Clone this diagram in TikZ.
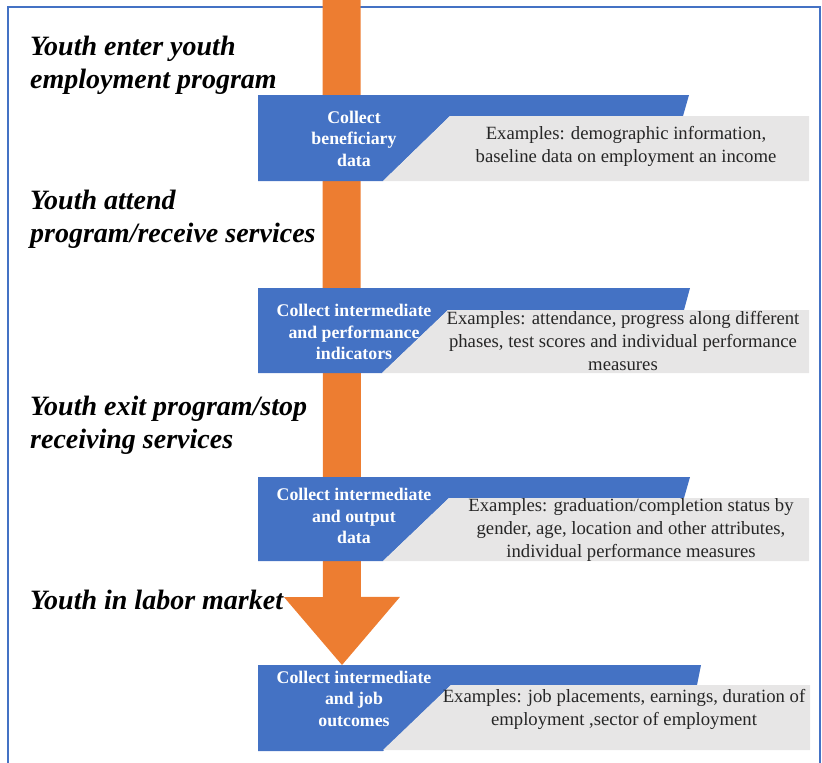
\documentclass[tikz,border=0pt]{standalone}
\usepackage{fontspec}
\setmainfont{Liberation Serif}
\usetikzlibrary{arrows.meta}
\definecolor{flowblue}{HTML}{4472C4}
\definecolor{floworange}{HTML}{ED7D31}
\definecolor{panelgray}{HTML}{E7E6E6}
\definecolor{textgray}{HTML}{262626}

\begin{document}
\begin{tikzpicture}[x=1pt,y=-1pt,
  stage/.style={anchor=west, align=left, inner sep=0pt, font=\fontsize{28}{33}\selectfont\bfseries\itshape},
  collect/.style={align=center, inner sep=0pt, text=white, font=\fontsize{17.8}{21.5}\selectfont\bfseries},
  examples/.style={align=center, inner sep=0pt, text=textgray, font=\fontsize{18.7}{23}\selectfont},
  tab/.style={fill=flowblue},
  panel/.style={fill=panelgray},
  flow/.style={draw=floworange, line width=38pt, -{Triangle[width=116pt, length=68pt, line width=0pt]}}]
\useasboundingbox (0,0) rectangle (822,763);
\draw[flowblue, line width=1.5pt] (8,763) -- (8,7) -- (820,7) -- (820,763);

% the orange flow arrow
\coordinate (flowtop) at (341.5,0);
\coordinate (flowtip) at (342,665);
\draw[flow] (flowtop) -- (flowtip);

% banners
\fill[tab] (258,95) -- (689,95) -- (683,116) -- (450,116) -- (383,181) -- (258,181) -- cycle;
\fill[panel] (450,116) -- (809,116) -- (809,181) -- (383,181) -- cycle;
\node[collect] (collect1) at (354,138.5) {Collect\\beneficiary\\data};
\node[examples] (examples1) at (626,146) {Examples: demographic information,\\baseline data on employment an income};

\fill[tab] (258,288) -- (690,288) -- (684,310) -- (448,310) -- (382,373) -- (258,373) -- cycle;
\fill[panel] (448,310) -- (809,310) -- (809,373) -- (382,373) -- cycle;
\node[collect] (collect2) at (354,332) {Collect intermediate\\and performance\\indicators};
\node[examples] (examples2) at (623,341) {Examples: attendance, progress along different\\phases, test scores and individual performance\\measures};

\fill[tab] (258,477) -- (690,477) -- (684,498) -- (449,498) -- (383,561) -- (258,561) -- cycle;
\fill[panel] (449,498) -- (809,498) -- (809,561) -- (383,561) -- cycle;
\node[collect] (collect3) at (354,516) {Collect intermediate\\and output\\data};
\node[examples] (examples3) at (631,530) {Examples: graduation/completion status by\\gender, age, location and other attributes,\\individual performance measures};

\fill[tab] (258,665) -- (701,665) -- (697,685) -- (451,685) -- (383,751) -- (258,751) -- cycle;
\fill[panel] (451,685) -- (810,685) -- (810,750) -- (383,750) -- cycle;
\node[collect] (collect4) at (354,698.5) {Collect intermediate\\and job\\outcomes};
\node[examples] (examples4) at (624,709) {Examples: job placements, earnings, duration of\\employment ,sector of employment};

% stage labels
\node[stage] (stage1) at (30,65) {Youth enter youth\\employment program};
\node[stage] (stage2) at (30,219.5) {Youth attend\\program/receive services};
\node[stage] (stage3) at (30,425) {Youth exit program/stop\\receiving services};
\node[stage] (stage4) at (30,600) {Youth in labor market};
\end{tikzpicture}
\end{document}
